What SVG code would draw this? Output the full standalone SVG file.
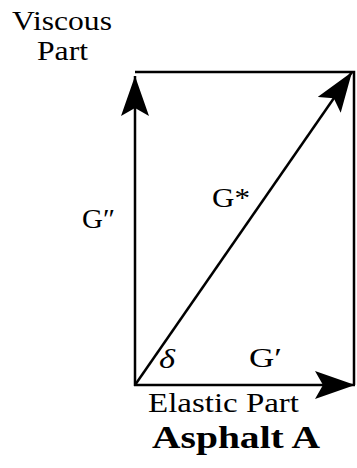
<svg xmlns="http://www.w3.org/2000/svg" width="357" height="468" viewBox="0 0 357 468">
<style>
.t{font-family:"Liberation Serif","Times New Roman",serif;fill:#000;font-size:27px}
.b{font-weight:bold;font-size:31px}
.ln{stroke:#000;stroke-width:2.5;fill:none}
</style>
<defs>
<marker id="ah" markerUnits="userSpaceOnUse" markerWidth="44" markerHeight="30" refX="40" refY="14" orient="auto">
<path d="M0,0 L40,14 L0,28 L8,14 Z" fill="#000"/>
</marker>
</defs>
<rect width="357" height="468" fill="#fff"/>
<g id="box">
<polyline class="ln" points="135,72 354,72 354,385"/>
</g>
<g id="connectors">
<line class="ln" x1="135" y1="386" x2="135" y2="76" marker-end="url(#ah)"/>
<line class="ln" x1="134" y1="385" x2="355" y2="385" marker-end="url(#ah)"/>
<line class="ln" x1="135" y1="385" x2="352" y2="72" marker-end="url(#ah)"/>
</g>
<g id="labels">
<text class="t" x="12" y="30" textLength="100" lengthAdjust="spacingAndGlyphs">Viscous</text>
<text class="t" x="37" y="60" textLength="51" lengthAdjust="spacingAndGlyphs">Part</text>
<text class="t" x="82" y="228" textLength="33" lengthAdjust="spacingAndGlyphs">G″</text>
<text class="t" x="212" y="207" textLength="38" lengthAdjust="spacingAndGlyphs">G*</text>
<text class="t" x="159" y="368" font-style="italic" textLength="16" lengthAdjust="spacingAndGlyphs">δ</text>
<text class="t" x="249" y="367" textLength="33" lengthAdjust="spacingAndGlyphs">G′</text>
<text class="t" x="148" y="412" textLength="151" lengthAdjust="spacingAndGlyphs">Elastic Part</text>
<text class="t b" x="152" y="448" textLength="168" lengthAdjust="spacingAndGlyphs">Asphalt A</text>
</g>
</svg>
